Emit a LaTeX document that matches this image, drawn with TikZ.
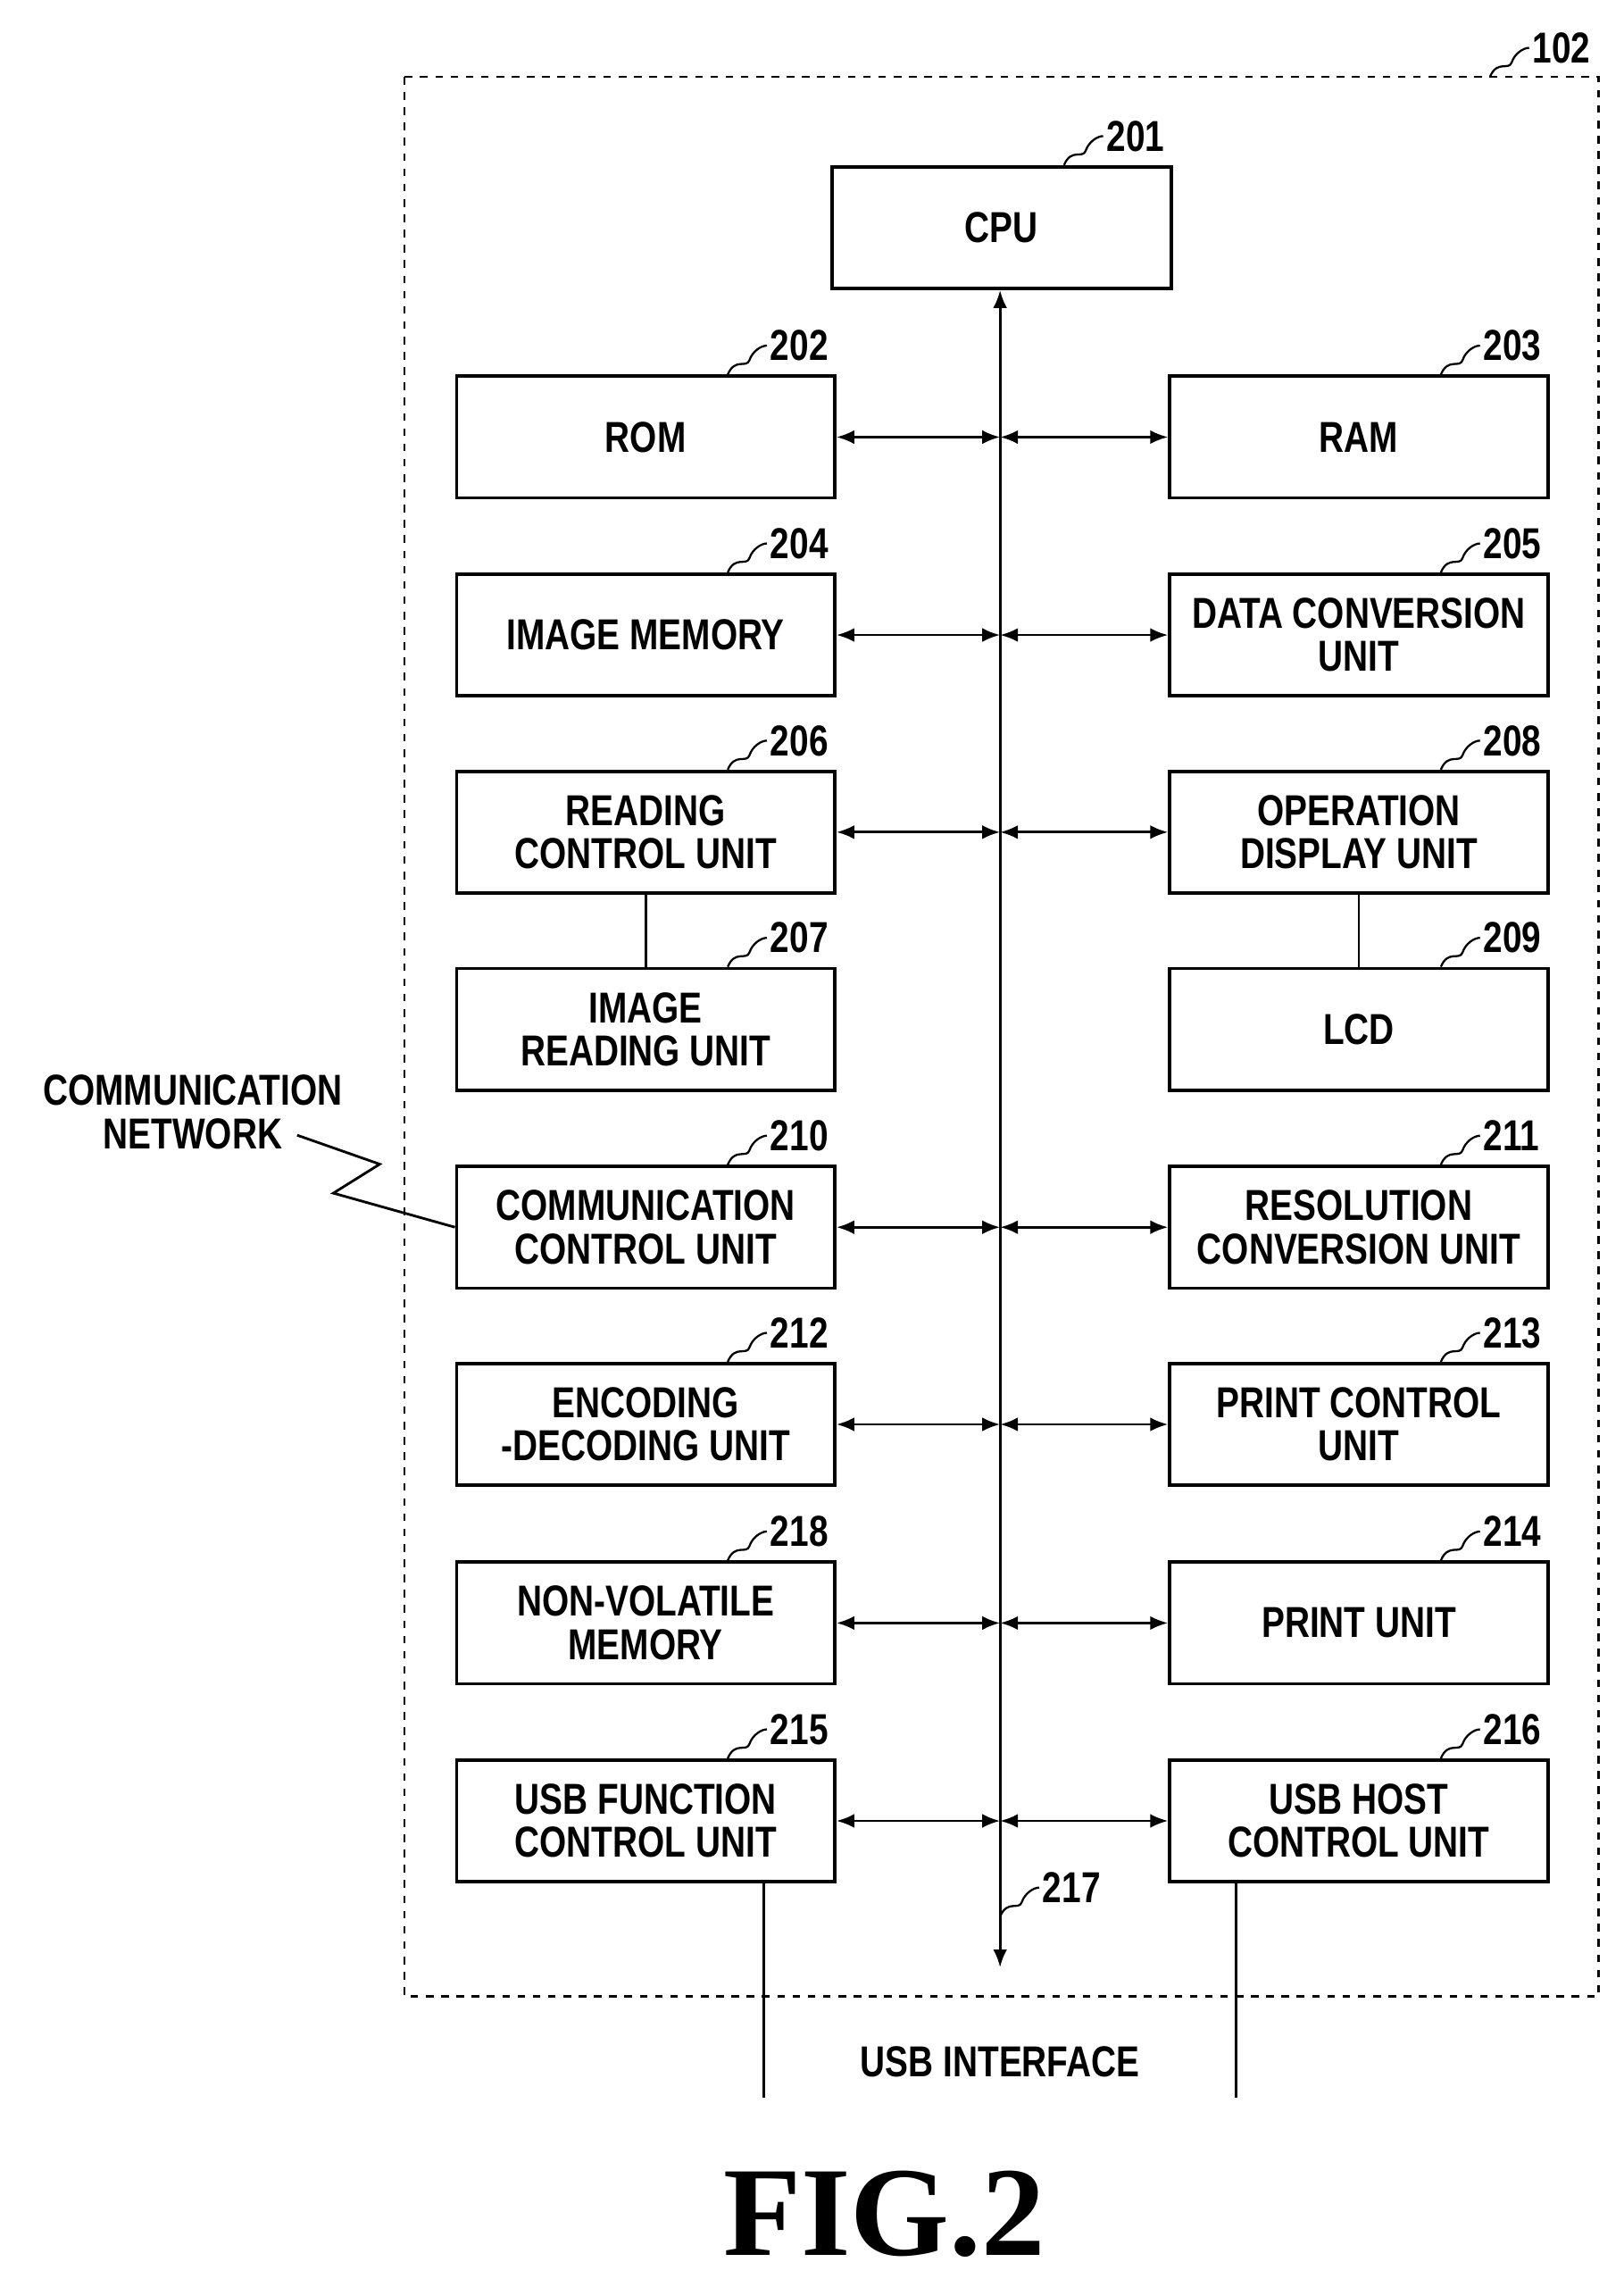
\documentclass[tikz,border=0pt]{standalone}
\usepackage{fontspec}
\setmainfont{Liberation Sans}[FakeStretch=0.8]
\usetikzlibrary{positioning}
\usetikzlibrary{arrows.meta}
\usetikzlibrary{calc}

% squiggle to a reference number
\newcommand{\refnum}[2]{%
  \draw[thick] ($(#1)+(-75,0)$) .. controls ($(#1)+(-70,-12)$) and ($(#1)+(-62,-4)$) .. ($(#1)+(-60,-10)$)
        .. controls ($(#1)+(-58,-16)$) and ($(#1)+(-52,-20)$) .. ($(#1)+(-48,-20)$)
        node[anchor=west, inner sep=1pt] {#2};}

\begin{document}
\begin{tikzpicture}[ x = 0.02cm, y = -0.02cm
                     , font = \bfseries\fontsize{17}{17}\selectfont
                     , >={Latex[width=0.55em, length=0.7em]}
                     , box/.style = { rectangle
                                    , draw = black
                                    , line width = 1.3pt
                                    , align = center
                                    , minimum width = 5.22cm
                                    , minimum height = 1.68cm
                                    , inner sep = 0pt }
                     , line width = 1pt
                     ]
  \useasboundingbox (0,0) rectangle (1120,1572);

  %%
  %% Nodes
  %%
  \draw[dashed, line width=1pt] (279,53) rectangle (1103,1377);
  \refnum{1103,53}{102}

  \node (cpu) [box, minimum width=4.68cm] at (691,157) {CPU};
  \refnum{cpu.north east}{201}

  \node (rom) [box] at (445.5,301.5) {ROM};
  \node (ram) [box] at (937.5,301.5) {RAM};
  \node (imem) [box] at (445.5,438) {IMAGE MEMORY};
  \node (dconv) [box] at (937.5,438) {DATA CONVERSION\\UNIT};
  \node (rctl) [box] at (445.5,574) {READING\\CONTROL UNIT};
  \node (opdisp) [box] at (937.5,574) {OPERATION\\DISPLAY UNIT};
  \node (iread) [box] at (445.5,710) {IMAGE\\READING UNIT};
  \node (lcd) [box] at (937.5,710) {LCD};
  \node (comm) [box] at (445.5,846.5) {COMMUNICATION\\CONTROL UNIT};
  \node (resconv) [box] at (937.5,846.5) {RESOLUTION\\CONVERSION UNIT};
  \node (codec) [box] at (445.5,982.5) {ENCODING\\-DECODING UNIT};
  \node (pctl) [box] at (937.5,982.5) {PRINT CONTROL\\UNIT};
  \node (nvmem) [box] at (445.5,1119.5) {NON-VOLATILE\\MEMORY};
  \node (punit) [box] at (937.5,1119.5) {PRINT UNIT};
  \node (usbf) [box] at (445.5,1256) {USB FUNCTION\\CONTROL UNIT};
  \node (usbh) [box] at (937.5,1256) {USB HOST\\CONTROL UNIT};

  \foreach \n/\t in {rom/202, ram/203, imem/204, dconv/205, rctl/206, opdisp/208,
                     iread/207, lcd/209, comm/210, resconv/211, codec/212, pctl/213,
                     nvmem/218, punit/214, usbf/215, usbh/216}
    {\refnum{\n.north east}{\t}}

  \node (net) [align=center, inner sep=1pt] at (133,767) {COMMUNICATION\\NETWORK};
  \node (usbif) [inner sep=1pt] at (690,1422) {USB INTERFACE};
  \node (fig) [font=\fontspec{Liberation Serif}\bfseries\fontsize{50}{50}\selectfont] at (610,1527) {FIG.2};

  %%
  %% Bus and connections
  %%
  \coordinate (busend) at (690,1357);
  \draw[<->] (cpu.south -| busend) -- (busend);
  \coordinate (b217) at (765,1322);
  \refnum{b217}{217}

  \foreach \l/\r in {rom/ram, imem/dconv, rctl/opdisp, comm/resconv,
                     codec/pctl, nvmem/punit, usbf/usbh}
  {
    \draw[<->] (\l.east) -- (\l.east -| busend);
    \draw[<->] (\r.west -| busend) -- (\r.west);
  }

  \draw (rctl) -- (iread);
  \draw (opdisp) -- (lcd);

  \coordinate (usbfend) at (527,1447);
  \coordinate (usbhend) at (853,1447);
  \draw (usbf.south -| usbfend) -- (usbfend);
  \draw (usbh.south -| usbhend) -- (usbhend);

  \draw (205,783) -- (262,803) -- (230,823) -- (comm.west);
\end{tikzpicture}
\end{document}
